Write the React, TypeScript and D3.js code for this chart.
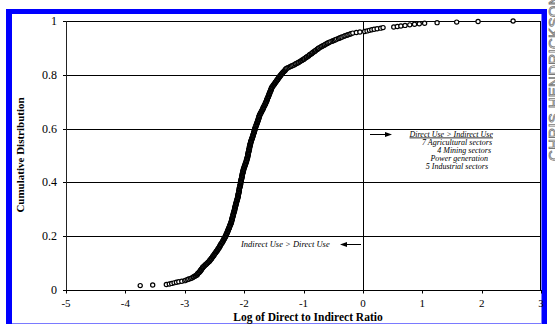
import React from "react";
import * as d3 from "d3";

const xTicks = [-5, -4, -3, -2, -1, 0, 1, 2, 3];
const yTicks = [0, 0.2, 0.4, 0.6, 0.8, 1];
const yTickLabels = ["0", "0.2", "0.4", "0.6", "0.8", "1"];
const xTitle = "Log of Direct to Indirect Ratio";
const yTitle = "Cumulative Distribution";
const leftNote = "Indirect Use > Direct Use";
const rightNote = [
  "Direct Use > Indirect Use",
  "7 Agricultural sectors",
  "4 Mining sectors",
  "Power generation",
  "5 Industrial sectors",
];
const watermark = "CHRIS HENDRICKSON";

// sorted log(direct/indirect) ratios, one per sector (values below -5 fall outside the axis)
const logRatio = [
  -6.1, -5.8, -5.6, -5.45, -5.3, -5.2, -5.08,
  -3.75, -3.54, -3.31, -3.26, -3.22, -3.18, -3.14, -3.1, -3.05, -3.0, -2.98, -2.95, -2.93, -2.9, -2.88,
  -2.86, -2.85, -2.83, -2.82, -2.8, -2.79, -2.79, -2.78, -2.77, -2.76,
  -2.75, -2.74, -2.74, -2.73, -2.72, -2.72, -2.71, -2.7, -2.7, -2.69, -2.68,
  -2.67, -2.66, -2.65, -2.64, -2.63, -2.62, -2.61, -2.6, -2.59, -2.58, -2.58, -2.57, -2.56,
  -2.55, -2.55, -2.54, -2.53, -2.53, -2.52, -2.51, -2.51, -2.5, -2.49, -2.49, -2.48, -2.47, -2.47, -2.46, -2.45, -2.45, -2.44, -2.44, -2.43,
  -2.42, -2.42, -2.41, -2.41, -2.4, -2.4, -2.39, -2.39, -2.38, -2.37, -2.37, -2.36, -2.36, -2.35, -2.35, -2.34, -2.34, -2.33, -2.33, -2.32, -2.32, -2.31,
  -2.31, -2.3, -2.3, -2.3, -2.29, -2.29, -2.28, -2.28, -2.28, -2.27, -2.27, -2.27, -2.26, -2.26, -2.25, -2.25, -2.25, -2.24, -2.24, -2.24, -2.23, -2.23, -2.22, -2.22,
  -2.22, -2.22, -2.21, -2.21, -2.21, -2.21, -2.2, -2.2, -2.2, -2.2, -2.19, -2.19, -2.19, -2.19, -2.18, -2.18, -2.18, -2.18, -2.17, -2.17, -2.17, -2.17, -2.16, -2.16, -2.16,
  -2.16, -2.16, -2.15, -2.15, -2.15, -2.15, -2.14, -2.14, -2.14, -2.14, -2.13, -2.13, -2.13, -2.13, -2.12, -2.12, -2.12, -2.12, -2.11, -2.11, -2.11, -2.11, -2.1, -2.1, -2.1,
  -2.1, -2.1, -2.1, -2.09, -2.09, -2.09, -2.09, -2.09, -2.08, -2.08, -2.08, -2.08, -2.08, -2.08, -2.07, -2.07, -2.07, -2.07, -2.07, -2.06, -2.06, -2.06, -2.06, -2.06,
  -2.06, -2.05, -2.05, -2.05, -2.05, -2.05, -2.04, -2.04, -2.04, -2.04, -2.04, -2.03, -2.03, -2.03, -2.03, -2.03, -2.02, -2.02, -2.02, -2.02, -2.02, -2.01, -2.01, -2.01, -2.01,
  -2.0, -2.0, -2.0, -1.99, -1.99, -1.99, -1.98, -1.98, -1.98, -1.97, -1.97, -1.97, -1.96, -1.96, -1.96, -1.96, -1.95, -1.95, -1.95, -1.95, -1.94, -1.94, -1.94, -1.94,
  -1.94, -1.93, -1.93, -1.93, -1.93, -1.93, -1.92, -1.92, -1.92, -1.92, -1.92, -1.91, -1.91, -1.91, -1.91, -1.91, -1.9, -1.9, -1.9, -1.9, -1.9, -1.89, -1.89, -1.89, -1.89,
  -1.88, -1.88, -1.88, -1.87, -1.87, -1.87, -1.86, -1.86, -1.86, -1.85, -1.85, -1.85, -1.85, -1.84, -1.84, -1.84, -1.83, -1.83, -1.83, -1.83, -1.82, -1.82, -1.82, -1.82,
  -1.81, -1.81, -1.81, -1.8, -1.8, -1.8, -1.79, -1.79, -1.79, -1.78, -1.78, -1.78, -1.77, -1.77, -1.77, -1.76, -1.76, -1.76, -1.75, -1.75, -1.75, -1.75, -1.74, -1.74, -1.74,
  -1.73, -1.73, -1.72, -1.72, -1.71, -1.71, -1.7, -1.7, -1.69, -1.69, -1.68, -1.68, -1.68, -1.67, -1.67, -1.66, -1.66, -1.65, -1.65, -1.64, -1.64, -1.64, -1.63, -1.63,
  -1.62, -1.62, -1.62, -1.61, -1.61, -1.61, -1.6, -1.6, -1.59, -1.59, -1.59, -1.58, -1.58, -1.58, -1.57, -1.57, -1.57, -1.56, -1.56, -1.55, -1.55, -1.55, -1.54, -1.54, -1.54,
  -1.53, -1.53, -1.52, -1.51, -1.51, -1.5, -1.49, -1.49, -1.48, -1.47, -1.47, -1.46, -1.45, -1.45, -1.44, -1.43, -1.43, -1.42, -1.41, -1.41, -1.4, -1.39, -1.39, -1.38,
  -1.37, -1.36, -1.36, -1.35, -1.34, -1.33, -1.32, -1.31, -1.31, -1.3, -1.29, -1.28,
  -1.26, -1.24, -1.22, -1.2, -1.18, -1.16, -1.14, -1.13, -1.11, -1.09,
  -1.08, -1.06, -1.05, -1.03, -1.02, -1.0, -0.99, -0.98, -0.96, -0.95,
  -0.94, -0.92, -0.91, -0.9, -0.89, -0.87, -0.86, -0.85, -0.84, -0.82, -0.81, -0.8, -0.79, -0.77, -0.76, -0.75, -0.74,
  -0.72, -0.7, -0.69, -0.67, -0.65, -0.64, -0.62, -0.6, -0.59, -0.57,
  -0.55, -0.52, -0.5, -0.48, -0.46, -0.44, -0.41, -0.39, -0.37, -0.35,
  -0.32, -0.3, -0.27, -0.25, -0.22, -0.2, -0.17, -0.11, -0.05,
  0.03, 0.07, 0.11, 0.15, 0.19, 0.24, 0.3,
  0.34, 0.52, 0.58, 0.64, 0.71, 0.79, 0.87, 0.95, 1.04, 1.25, 1.58, 1.94, 2.53,
];

const W = 555;
const H = 324;
const serif = "'Liberation Serif', 'Times New Roman', serif";

export default function App() {
  const x = d3.scaleLinear().domain([-5, 3]).range([66, 541]);
  const y = d3.scaleLinear().domain([0, 1]).range([290, 21]);
  const n = logRatio.length;
  const pts = logRatio
    .map((v, i) => ({ v, c: (i + 1) / n }))
    .filter((p) => p.v >= -5 && p.v <= 3);

  const X0 = x(-5);
  const X1 = x(3);
  const Y0 = y(0);
  const Y1 = y(1);

  const arrowR = (x1: number, x2: number, yy: number) => (
    <g>
      <line x1={x1} x2={x2 - 5} y1={yy} y2={yy} stroke="#000" strokeWidth={1} />
      <path d={`M${x2},${yy} L${x2 - 7},${yy - 2.5} L${x2 - 7},${yy + 2.5} Z`} fill="#000" />
    </g>
  );
  const arrowL = (x1: number, x2: number, yy: number) => (
    <g>
      <line x1={x1} x2={x2 + 5} y1={yy} y2={yy} stroke="#000" strokeWidth={1} />
      <path d={`M${x2},${yy} L${x2 + 7},${yy - 2.5} L${x2 + 7},${yy + 2.5} Z`} fill="#000" />
    </g>
  );

  const noteEnds = [493, 492, 491, 488, 488];
  const noteBase = [136.5, 145, 153, 161, 169];

  return (
    <svg
      width={W}
      height={H}
      style={{ position: "absolute", left: 0, top: 0, background: "#fff" }}
      fontFamily={serif}
    >
      <rect x={0} y={0} width={W} height={H} fill="#fff" />
      {/* blue frame */}
      <rect x={6} y={9} width={541} height={5} fill="#0000ff" />
      <rect x={6} y={9} width={6} height={H - 9} fill="#0000ff" />
      <rect x={541.5} y={9} width={5.5} height={H - 9} fill="#0000ff" />
      <line x1={12} x2={542} y1={323.5} y2={323.5} stroke="#7a7aff" strokeWidth={1} />

      {/* watermark */}
      <text
        transform={`translate(559,161) rotate(-90)`}
        fontFamily="'Liberation Sans', Arial, sans-serif"
        fontSize={15}
        fill="#fff"
        stroke="#777"
        strokeWidth={0.8}
        letterSpacing={0.3}
      >
        {watermark}
      </text>

      {/* gridlines & frame */}
      {yTicks.map((t) => (
        <line
          key={"g" + t}
          x1={X0 - 3}
          x2={X1}
          y1={Math.round(y(t)) + 0.5}
          y2={Math.round(y(t)) + 0.5}
          stroke="#000"
          strokeWidth={1}
        />
      ))}
      <line x1={Math.round(X0) + 0.5} x2={Math.round(X0) + 0.5} y1={Y1} y2={Y0} stroke="#222" strokeWidth={1} />
      <line x1={Math.round(X1) - 0.5} x2={Math.round(X1) - 0.5} y1={Y1} y2={Y0} stroke="#000" strokeWidth={1} />
      <line x1={Math.round(x(0)) + 0.5} x2={Math.round(x(0)) + 0.5} y1={Y1} y2={Y0} stroke="#000" strokeWidth={1} />
      {xTicks.map((t) => (
        <line
          key={"xt" + t}
          x1={Math.round(x(t)) + 0.5}
          x2={Math.round(x(t)) + 0.5}
          y1={Y0}
          y2={Y0 + 3.5}
          stroke="#000"
          strokeWidth={1}
        />
      ))}

      {/* tick labels */}
      {yTicks.map((t, i) => (
        <text key={"yl" + t} x={57} y={y(t) + 4} textAnchor="end" fontSize={12} fill="#000">
          {yTickLabels[i]}
        </text>
      ))}
      {xTicks.map((t) => (
        <text key={"xl" + t} x={x(t)} y={307} textAnchor="middle" fontSize={11} fill="#000">
          {t}
        </text>
      ))}

      {/* axis titles */}
      <text x={308} y={321} textAnchor="middle" fontSize={11.5} fontWeight="bold" fill="#000">
        {xTitle}
      </text>
      <text
        transform={`translate(24,155) rotate(-90)`}
        textAnchor="middle"
        fontSize={11}
        fontWeight="bold"
        fill="#000"
      >
        {yTitle}
      </text>

      {/* data points */}
      <g>
        {pts.map((p, i) => (
          <circle key={i} cx={x(p.v)} cy={y(p.c)} r={2.1} fill="#fff" stroke="#000" strokeWidth={1.2} />
        ))}
      </g>

      {/* annotations */}
      <text x={241} y={247} fontSize={8.5} fontStyle="italic" fill="#000">
        {leftNote}
      </text>
      {arrowL(361, 340, 244.5)}
      {arrowR(370, 392, 134.5)}
      {rightNote.map((s, i) => (
        <text
          key={s}
          x={noteEnds[i]}
          y={noteBase[i]}
          textAnchor="end"
          fontSize={8}
          fontStyle="italic"
          fill="#000"
          textDecoration={i === 0 ? "underline" : undefined}
        >
          {s}
        </text>
      ))}
    </svg>
  );
}
